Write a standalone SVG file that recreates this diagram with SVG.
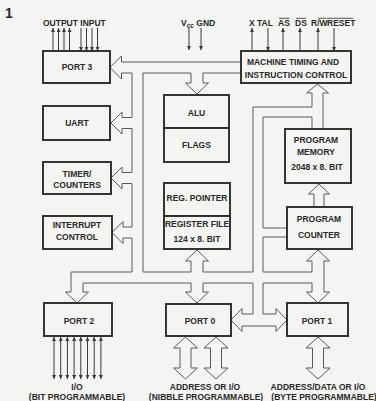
<svg xmlns="http://www.w3.org/2000/svg" width="376" height="401" viewBox="0 0 376 401">
<style>
text{font-family:"Liberation Sans",Arial,sans-serif;font-weight:bold;font-size:8.5px;fill:#2b2b2b;text-anchor:middle}
.box{fill:#f4f4f2;stroke:#2b2b2b;stroke-width:1.9}
.bus{fill:none;stroke:#5a5a5a;stroke-width:1}
.sig{fill:none;stroke:#3a3a3a;stroke-width:1}
.hol{fill:#f4f4f2;stroke:#5a5a5a;stroke-width:1}
.ov{stroke:#2b2b2b;stroke-width:0.8}
</style>
<defs>
<marker id="ah" viewBox="0 0 6 6" refX="6" refY="3" markerWidth="4" markerHeight="4" orient="auto-start-reverse" markerUnits="userSpaceOnUse"><path d="M0,0 L6,3 L0,6 Z" fill="#3a3a3a"/></marker>
<path id="dbl" d="M0,0 L12,11 L5.5,11 L5.5,31 L12,31 L0,42 L-12,31 L-5.5,31 L-5.5,11 L-12,11 Z"/>
</defs>
<rect width="376" height="401" fill="#f4f4f2"/>
<text x="9" y="18" style="font-size:14px">1</text>

<g id="connectors">
<path class="bus" d="M241,62 L121.5,62 L121.5,56 L110,67.5 L121.5,79 L121.5,73 L132,73 L132,117.5 L122,117.5 L122,112 L111,123 L122,134 L122,128.5 L132,128.5 L132,172.5 L122,172.5 L122,167 L111,178 L122,189 L122,183.5 L132,183.5 L132,227 L123,227 L123,221.5 L112,232.5 L123,243.5 L123,238 L132,238 L132,272 L71,272 L71,292 L65.5,292 L77,303 L88.5,292 L83,292 L83,283 L191,283 L191,292 L185.5,292 L197,303 L208.5,292 L203,292 L203,283 L253,283 L253,314 L242,314 L242,308.5 L231,320 L242,331.5 L242,326 L276,326 L276,331.5 L287,320 L276,308.5 L276,314 L263,314 L263,283 L312,283 L312,292 L306.5,292 L318,303 L329.5,292 L324,292 L324,261 L329.5,261 L318,250 L306.5,261 L312,261 L312,272 L263,272 L263,237 L287,237"/>
<path class="bus" d="M287,228 L263,228 L263,117 L312,117 L312,129"/>
<path class="bus" d="M323,129 L323,93 L328.5,93 L317.5,84 L306.5,93 L312,93 L312,107 L253,107 L253,272 L203,272 L203,261 L208.5,261 L197,250 L185.5,261 L191,261 L191,272 L143,272 L143,73 L191,73 L191,83 L185.5,83 L197,94 L208.5,83 L203,83 L203,73 L241,73"/>
<path class="bus" d="M314,207 L314,194 L308.5,194 L319,184 L329.5,194 L324,194 L324,207"/>
<use href="#dbl" class="hol" x="185.5" y="337"/>
<use href="#dbl" class="hol" x="216" y="337"/>
<use href="#dbl" class="hol" x="318" y="337"/>
<g class="sig">
<line x1="53" y1="51" x2="53" y2="28" marker-end="url(#ah)"/>
<line x1="58.5" y1="51" x2="58.5" y2="28" marker-end="url(#ah)"/>
<line x1="64" y1="51" x2="64" y2="28" marker-end="url(#ah)"/>
<line x1="69.5" y1="51" x2="69.5" y2="28" marker-end="url(#ah)"/>
<line x1="81" y1="28" x2="81" y2="51" marker-end="url(#ah)"/>
<line x1="86.5" y1="28" x2="86.5" y2="51" marker-end="url(#ah)"/>
<line x1="92" y1="28" x2="92" y2="51" marker-end="url(#ah)"/>
<line x1="97.5" y1="28" x2="97.5" y2="51" marker-end="url(#ah)"/>
<line x1="189" y1="28" x2="189" y2="50" marker-end="url(#ah)"/>
<line x1="201" y1="28" x2="201" y2="50" marker-end="url(#ah)"/>
<line x1="252" y1="51" x2="252" y2="28" marker-end="url(#ah)"/>
<line x1="268" y1="28" x2="268" y2="51" marker-end="url(#ah)"/>
<line x1="283" y1="51" x2="283" y2="28" marker-end="url(#ah)"/>
<line x1="300" y1="51" x2="300" y2="28" marker-end="url(#ah)"/>
<line x1="318" y1="51" x2="318" y2="28" marker-end="url(#ah)"/>
<line x1="334" y1="28" x2="334" y2="51" marker-end="url(#ah)"/>
<line x1="54" y1="337" x2="54" y2="379" marker-start="url(#ah)" marker-end="url(#ah)"/>
<line x1="60.7" y1="337" x2="60.7" y2="379" marker-start="url(#ah)" marker-end="url(#ah)"/>
<line x1="67.4" y1="337" x2="67.4" y2="379" marker-start="url(#ah)" marker-end="url(#ah)"/>
<line x1="74.1" y1="337" x2="74.1" y2="379" marker-start="url(#ah)" marker-end="url(#ah)"/>
<line x1="80.8" y1="337" x2="80.8" y2="379" marker-start="url(#ah)" marker-end="url(#ah)"/>
<line x1="87.5" y1="337" x2="87.5" y2="379" marker-start="url(#ah)" marker-end="url(#ah)"/>
<line x1="94.2" y1="337" x2="94.2" y2="379" marker-start="url(#ah)" marker-end="url(#ah)"/>
<line x1="100.9" y1="337" x2="100.9" y2="379" marker-start="url(#ah)" marker-end="url(#ah)"/>
</g>
</g>

<g id="port3"><rect class="box" x="43" y="51" width="67" height="32"/><text x="77" y="70">PORT 3</text></g>
<g id="uart"><rect class="box" x="43" y="106" width="67" height="34"/><text x="77" y="126">UART</text></g>
<g id="timer"><rect class="box" x="43" y="162" width="68" height="32"/><text x="77" y="177">TIMER/</text><text x="77" y="188">COUNTERS</text></g>
<g id="interrupt"><rect class="box" x="43" y="216" width="69" height="33"/><text x="77" y="228">INTERRUPT</text><text x="77" y="240">CONTROL</text></g>
<g id="port2"><rect class="box" x="44" y="303" width="68" height="33"/><text x="79" y="324">PORT 2</text></g>
<g id="port0"><rect class="box" x="166" y="304" width="65" height="32"/><text x="200" y="324">PORT 0</text></g>
<g id="port1"><rect class="box" x="287" y="303" width="61" height="33"/><text x="317" y="324">PORT 1</text></g>
<g id="machine"><rect class="box" x="241" y="51" width="110" height="32"/><text x="293" y="65">MACHINE TIMING AND</text><text x="296" y="78">INSTRUCTION CONTROL</text></g>
<g id="alu"><rect class="box" x="164" y="95" width="65" height="33"/><text x="196.5" y="116">ALU</text></g>
<g id="flags"><rect class="box" x="164" y="128" width="65" height="34"/><text x="196.5" y="148">FLAGS</text></g>
<g id="regpointer"><rect class="box" x="164" y="183" width="66" height="33"/><text x="197" y="201">REG. POINTER</text></g>
<g id="regfile"><rect class="box" x="164" y="216" width="66" height="33"/><text x="197" y="227">REGISTER FILE</text><text x="197" y="242">124 x 8. BIT</text></g>
<g id="progmem"><rect class="box" x="285" y="129" width="66" height="54"/><text x="316" y="143">PROGRAM</text><text x="316" y="155">MEMORY</text><text x="317" y="170">2048 x 8. BIT</text></g>
<g id="pc"><rect class="box" x="287" y="207" width="65" height="42"/><text x="319" y="222">PROGRAM</text><text x="319" y="238">COUNTER</text></g>

<g id="labels">
<text x="43" y="25.5" style="text-anchor:start">OUTPUT INPUT</text>
<text x="181" y="25.5" style="text-anchor:start">V<tspan style="font-size:6.5px" dy="2">cc</tspan><tspan dy="-2"> GND</tspan></text>
<text x="249" y="25.5" style="text-anchor:start">X TAL</text>
<text x="284" y="25.5">AS</text><line class="ov" x1="279" y1="18.3" x2="289.5" y2="18.3"/>
<text x="301" y="25.5">DS</text><line class="ov" x1="296" y1="18.3" x2="306" y2="18.3"/>
<text x="311" y="25.5" style="text-anchor:start">R/W</text><line class="ov" x1="318.5" y1="18.3" x2="326.5" y2="18.3"/>
<text x="327" y="25.5" style="text-anchor:start">RESET</text><line class="ov" x1="327" y1="18.3" x2="353" y2="18.3"/>
<text x="77" y="390">I/O</text>
<text x="77" y="399.5">(BIT PROGRAMMABLE)</text>
<text x="205" y="390">ADDRESS OR I/O</text>
<text x="206" y="399.5">(NIBBLE PROGRAMMABLE)</text>
<text x="318" y="390">ADDRESS/DATA OR I/O</text>
<text x="324" y="399.5">(BYTE PROGRAMMABLE)</text>
</g>
</svg>
